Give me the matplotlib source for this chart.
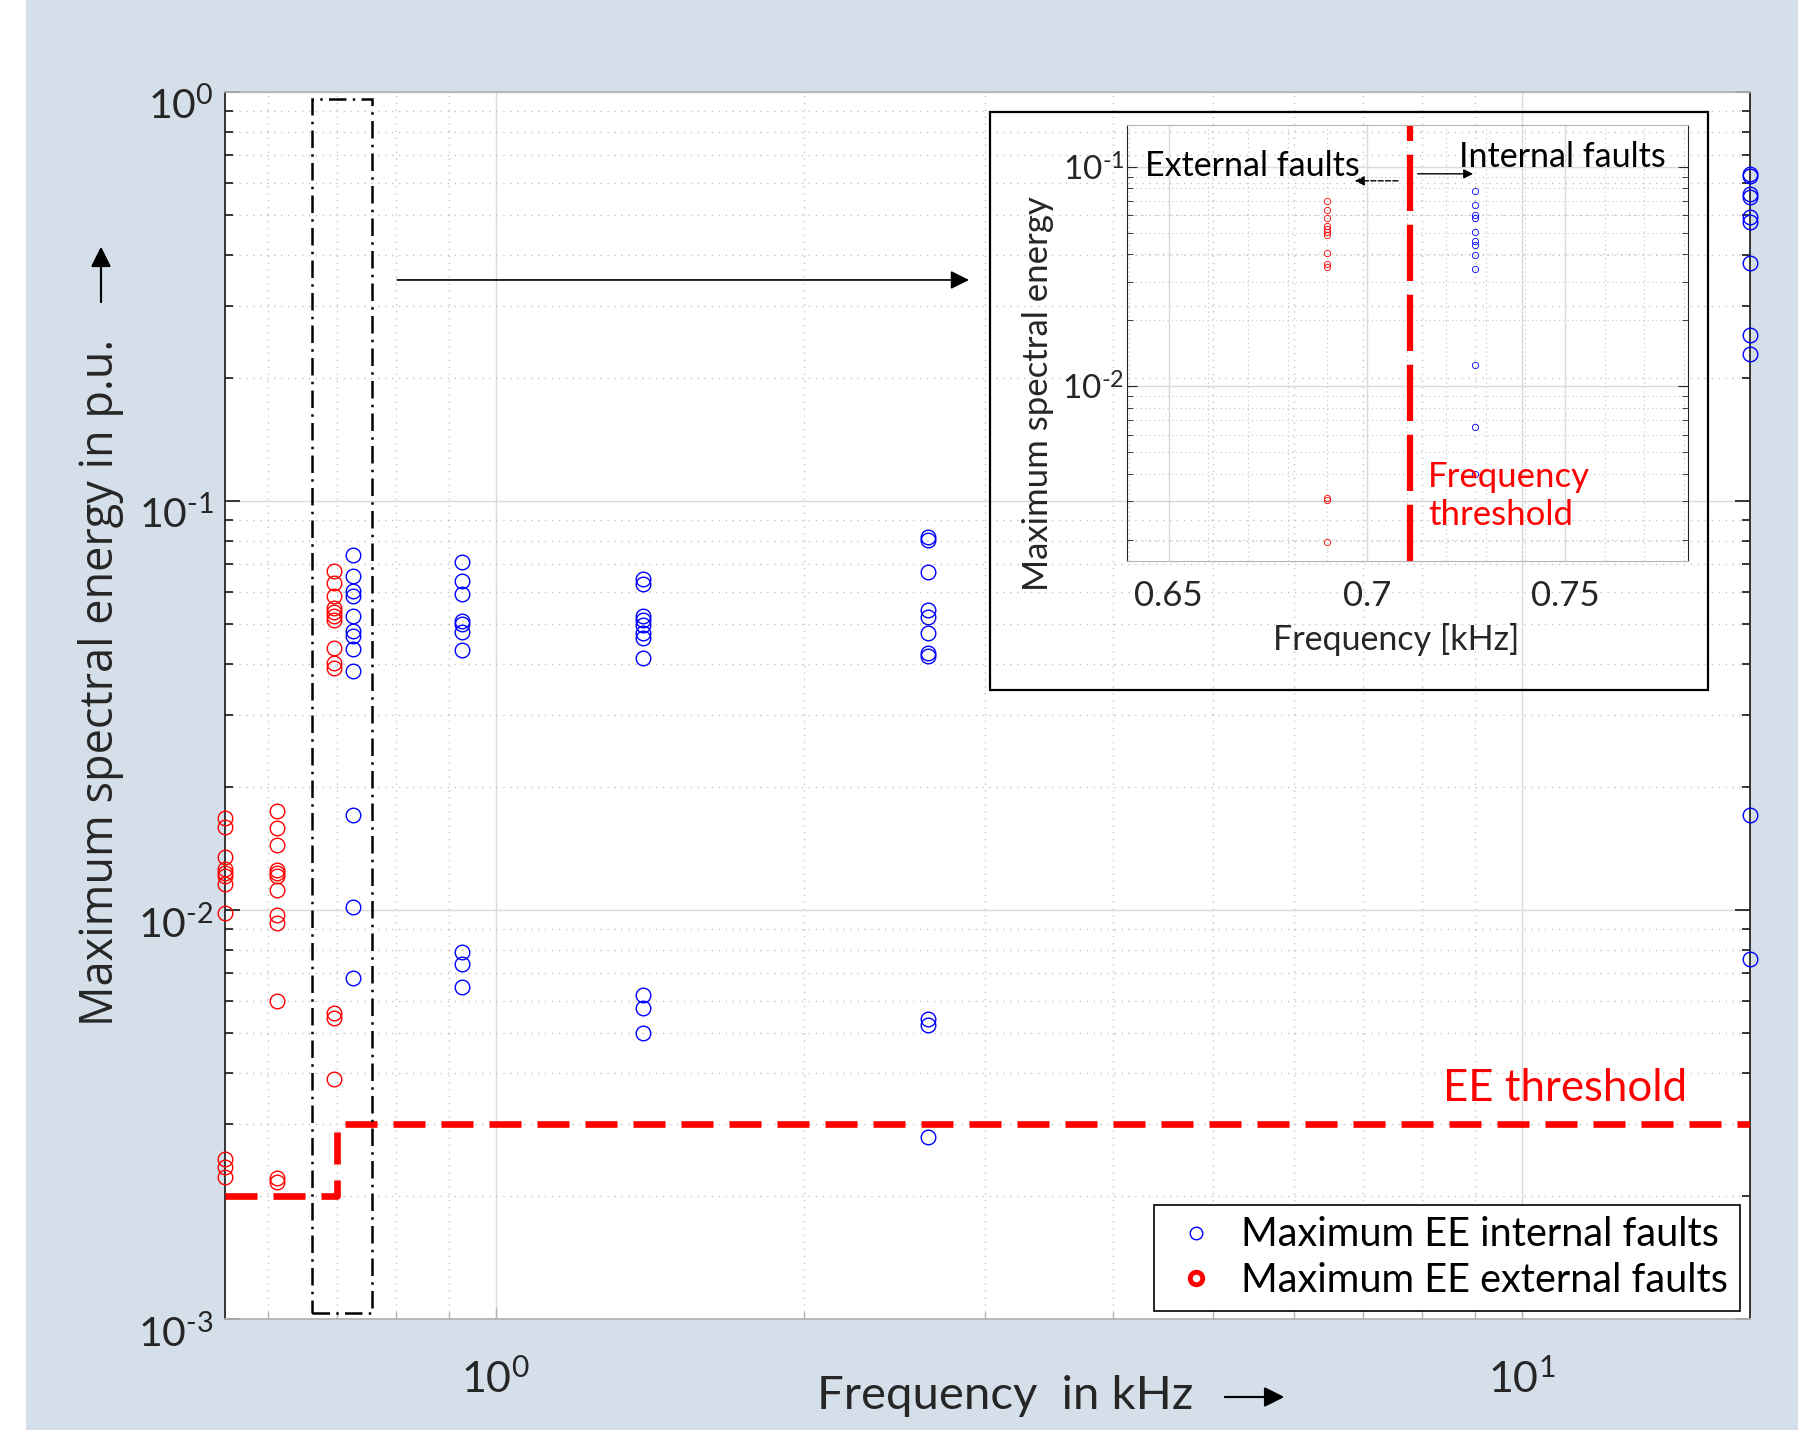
import numpy as np
import matplotlib
matplotlib.use('Agg')
import matplotlib.pyplot as plt
import matplotlib.transforms as mtransforms
from matplotlib.lines import Line2D
from matplotlib.patches import Rectangle
from matplotlib.ticker import (LogLocator, FixedLocator, FixedFormatter, NullFormatter,
                               MultipleLocator, FuncFormatter)

plt.rcParams['font.family'] = ['Lato', 'DejaVu Sans']
plt.rcParams['mathtext.fontset'] = 'custom'
plt.rcParams['mathtext.rm'] = 'Lato'
plt.rcParams['mathtext.it'] = 'Lato:italic'
plt.rcParams['mathtext.bf'] = 'Lato:bold'
plt.rcParams['axes.unicode_minus'] = False

# main plot: maximum spectral energy (p.u.) per frequency (kHz)
ext_freq = [0.545, 0.612, 0.696]
ext_energy = [
    [0.0168, 0.0160, 0.0135, 0.0126, 0.0123, 0.0121, 0.0116, 0.00984, 0.00246, 0.00235, 0.00222],
    [0.01746, 0.0159, 0.0144, 0.01256, 0.01233, 0.0121, 0.0112, 0.0097, 0.00927, 0.00598, 0.00221, 0.00216],
    [0.0676, 0.0630, 0.0587, 0.0548, 0.0535, 0.0524, 0.0512, 0.0436, 0.0401, 0.0391, 0.00560, 0.00543, 0.00387],
]
int_freq = [0.727, 0.928, 1.393, 2.637, 16.7]
int_energy = [
    [0.0738, 0.0656, 0.0601, 0.0586, 0.0522, 0.0481, 0.0467, 0.0434, 0.0384, 0.0171, 0.01016, 0.00681],
    [0.0708, 0.0637, 0.0592, 0.0508, 0.0500, 0.0478, 0.0432, 0.00791, 0.00738, 0.00649],
    [0.0644, 0.0628, 0.0524, 0.0511, 0.0498, 0.0476, 0.0462, 0.0414, 0.00619, 0.00575, 0.00500],
    [0.0818, 0.0804, 0.0672, 0.0540, 0.0520, 0.0476, 0.0425, 0.0418, 0.00540, 0.00522, 0.00279],
    [0.630, 0.622, 0.562, 0.555, 0.494, 0.482, 0.382, 0.254, 0.229, 0.0171, 0.0076],
]
thr_freq = [0.545, 0.70, 0.70, 16.7]
thr_energy = [0.002, 0.002, 0.003, 0.003]

# zoom window and arrow pointing at the inset
box_f = [0.6625, 0.7573]
box_e = [1.037e-3, 0.963]
arrow_f = [0.802, 2.894]
arrow_e = 0.347

# inset data
inset_ext_freq = 0.690
inset_ext_energy = [0.0701, 0.0634, 0.0585, 0.0540, 0.0518, 0.0503, 0.0489, 0.0403, 0.0360, 0.0350,
                    0.00310, 0.00303, 0.00196]
inset_int_freq = 0.7273
inset_int_energy = [0.0778, 0.0673, 0.0604, 0.0585, 0.0503, 0.0459, 0.0440, 0.0398, 0.0343,
                    0.01248, 0.00654, 0.0040]
freq_threshold = 0.711
inset_xticks = [0.65, 0.7, 0.75]
inset_xticklabels = ['0.65', '0.7', '0.75']


def pow10(v, pos):
    # MATLAB style label with a short hyphen instead of the math minus
    e = int(round(np.log10(v)))
    if e < 0:
        return r'$\mathdefault{10^{\text{-}%d}}$' % (-e)
    return r'$\mathdefault{10^{%d}}$' % e


bg = '#d5dfea'
fig = plt.figure(figsize=(17.99, 14.30), dpi=100, facecolor=bg)
fig.add_artist(Rectangle((0, 0), 26 / 1799, 1, transform=fig.transFigure,
                         fc='white', ec='none', zorder=-1))

ax = fig.add_axes([0.1251, 0.0776, 0.8477, 0.8581])
ax.set_xscale('log')
ax.set_yscale('log')
ax.set_xlim(0.545, 16.7)
ax.set_ylim(1e-3, 1)

ax.grid(True, which='major', color='#dadada', lw=1.0, ls='-')
ax.grid(True, which='minor', color='#c4c4c4', lw=1.0, ls=(0, (1, 4)))
ax.xaxis.set_major_locator(LogLocator(base=10, numticks=10))
ax.xaxis.set_minor_locator(LogLocator(base=10, subs=np.arange(2, 10), numticks=20))
ax.xaxis.set_major_formatter(FuncFormatter(pow10))
ax.xaxis.set_minor_formatter(NullFormatter())
ax.yaxis.set_major_locator(LogLocator(base=10, numticks=10))
ax.yaxis.set_minor_locator(LogLocator(base=10, subs=np.arange(2, 10), numticks=20))
ax.yaxis.set_major_formatter(FuncFormatter(pow10))
ax.yaxis.set_minor_formatter(NullFormatter())

ax.tick_params(axis='y', which='both', direction='in', left=True, right=True,
               color='#262626', width=1.3, labelsize=29.5, pad=8, labelcolor='#262626')
ax.tick_params(axis='y', which='major', length=11)
ax.tick_params(axis='y', which='minor', length=6)
ax.tick_params(axis='x', which='both', direction='in', bottom=True, top=False,
               color='#b0b0b0', width=1.0, labelsize=31, pad=28, labelcolor='#262626')
ax.tick_params(axis='x', which='major', length=8)
ax.tick_params(axis='x', which='minor', length=5)
for side in ['left', 'right']:
    ax.spines[side].set_color('#262626')
    ax.spines[side].set_linewidth(1.3)
for side in ['top', 'bottom']:
    ax.spines[side].set_color('#b4b4b4')
    ax.spines[side].set_linewidth(1.3)

# y tick labels sit a little below their ticks in the original
shift_down = mtransforms.ScaledTranslation(0, -8 / 72, fig.dpi_scale_trans)
for t in ax.yaxis.get_major_ticks():
    t.label1.set_transform(t.label1.get_transform() + shift_down)

for f, e in zip(ext_freq, ext_energy):
    ax.plot([f] * len(e), e, 'o', ls='none', mfc='none', mec='#ff0000', ms=10.5, mew=1.0,
            clip_on=False, zorder=4)
for f, e in zip(int_freq, int_energy):
    ax.plot([f] * len(e), e, 'o', ls='none', mfc='none', mec='#0000ff', ms=10.5, mew=1.0,
            clip_on=False, zorder=4)

ax.plot(thr_freq, thr_energy, color='#ff0000', lw=4.8, dashes=(4.8, 2.4), zorder=3)
ax.text(14.5, 0.00367, 'EE threshold', color='#ff0000', fontsize=31.5, ha='right', va='center')

ax.add_patch(Rectangle((box_f[0], box_e[0]), box_f[1] - box_f[0], box_e[1] - box_e[0],
                       fill=False, ec='black', lw=1.8, ls=(0, (7, 2.5, 1, 2.5)), zorder=3))
ax.annotate('', xy=(arrow_f[1], arrow_e), xytext=(arrow_f[0], arrow_e),
            arrowprops=dict(arrowstyle='-|>', color='black', lw=1.2, mutation_scale=28,
                            shrinkA=0, shrinkB=0))

handles = [
    Line2D([], [], marker='o', ls='none', mfc='none', mec='#0000ff', ms=9, mew=1.0),
    Line2D([], [], marker='o', ls='none', mfc='none', mec='#ff0000', ms=9, mew=3.5),
]
leg = ax.legend(handles, ['Maximum EE internal faults', 'Maximum EE external faults'],
                loc='lower right', bbox_to_anchor=(0.9935, 0.0065), borderaxespad=0,
                fontsize=28.5, frameon=True, fancybox=False, framealpha=1, edgecolor='black',
                handlelength=1.5, handletextpad=0.4, borderpad=0.3, labelspacing=0.22)
leg.get_frame().set_linewidth(1.2)

# axis labels with arrows
fig.text(101 / 1799, 1 - 682 / 1430, 'Maximum spectral energy in p.u.', rotation=90,
         fontsize=32.5, family=['Open Sans', 'DejaVu Sans'], color='#262626',
         ha='center', va='center')
fig.add_artist(plt.annotate('', xy=(101 / 1799, 1 - 247 / 1430), xytext=(101 / 1799, 1 - 302 / 1430),
                            xycoords='figure fraction', textcoords='figure fraction',
                            arrowprops=dict(arrowstyle='-|>', color='black', lw=1.5,
                                            mutation_scale=30, shrinkA=0, shrinkB=0)))
fig.text(1005 / 1799, 1 - 1396 / 1430, 'Frequency  in kHz', fontsize=34, color='#262626',
         ha='center', va='center')
fig.add_artist(plt.annotate('', xy=(1284 / 1799, 1 - 1397 / 1430), xytext=(1225 / 1799, 1 - 1397 / 1430),
                            xycoords='figure fraction', textcoords='figure fraction',
                            arrowprops=dict(arrowstyle='-|>', color='black', lw=1.5,
                                            mutation_scale=30, shrinkA=0, shrinkB=0)))

# inset frame and axes
fig.add_artist(Rectangle((990 / 1799, 1 - 690 / 1430), 718 / 1799, 578 / 1430,
                         transform=fig.transFigure, fill=False, ec='black', lw=1.6, zorder=5))
axin = fig.add_axes([1127 / 1799, 1 - 561 / 1430, 561 / 1799, 436 / 1430])
axin.set_facecolor('none')
axin.set_yscale('log')
axin.set_xlim(0.6395, 0.781)
axin.set_ylim(0.0016, 0.155)
axin.xaxis.set_major_locator(FixedLocator(inset_xticks))
axin.xaxis.set_major_formatter(FixedFormatter(inset_xticklabels))
axin.xaxis.set_minor_locator(MultipleLocator(0.01))
axin.yaxis.set_major_formatter(FuncFormatter(pow10))
axin.yaxis.set_minor_formatter(NullFormatter())
axin.grid(True, which='major', color='#dadada', lw=1.0, ls='-')
axin.grid(True, which='minor', color='#c4c4c4', lw=0.8, ls=(0, (1, 3)))
axin.tick_params(axis='both', which='both', direction='in', color='#262626',
                 labelcolor='#262626')
axin.tick_params(axis='y', which='both', left=True, right=True, pad=2, labelsize=24)
axin.tick_params(axis='y', which='major', length=7)
axin.tick_params(axis='y', which='minor', length=4)
axin.tick_params(axis='x', which='both', length=0, pad=14, labelsize=25)
for side in ['left', 'right']:
    axin.spines[side].set_color('#262626')
for side in ['top', 'bottom']:
    axin.spines[side].set_color('#b4b4b4')

axin.plot([inset_ext_freq] * len(inset_ext_energy), inset_ext_energy, 'o', ls='none',
          mfc='none', mec='#ff0000', ms=4.5, mew=0.6)
axin.plot([inset_int_freq] * len(inset_int_energy), inset_int_energy, 'o', ls='none',
          mfc='none', mec='#0000ff', ms=4.5, mew=0.6)
axin.axvline(freq_threshold, color='#ff0000', lw=4.5, dashes=(9, 2.2))

axin.set_xlabel('Frequency [kHz]', fontsize=24.5, color='#262626')
axin.xaxis.set_label_coords(0.48, -0.142)
axin.set_ylabel('Maximum spectral energy', fontsize=25, color='#262626')
axin.yaxis.set_label_coords(-0.13, 0.384)

axin.text(0.032, 0.906, 'External faults', transform=axin.transAxes, fontsize=24.5,
          ha='left', va='center')
axin.text(0.592, 0.927, 'Internal faults', transform=axin.transAxes, fontsize=24.5,
          ha='left', va='center')
axin.annotate('', xy=(0.406, 0.872), xytext=(0.483, 0.872), xycoords='axes fraction',
              arrowprops=dict(arrowstyle='-|>', color='black', lw=1.0, ls='--',
                              mutation_scale=14, shrinkA=0, shrinkB=0))
axin.annotate('', xy=(0.617, 0.888), xytext=(0.518, 0.888), xycoords='axes fraction',
              arrowprops=dict(arrowstyle='-|>', color='black', lw=1.0,
                              mutation_scale=14, shrinkA=0, shrinkB=0))
axin.text(0.537, 0.149, 'Frequency\nthreshold', transform=axin.transAxes, fontsize=25,
          color='#ff0000', ha='left', va='center', linespacing=1.2)

fig.savefig('out.png', dpi=100, facecolor=bg)
